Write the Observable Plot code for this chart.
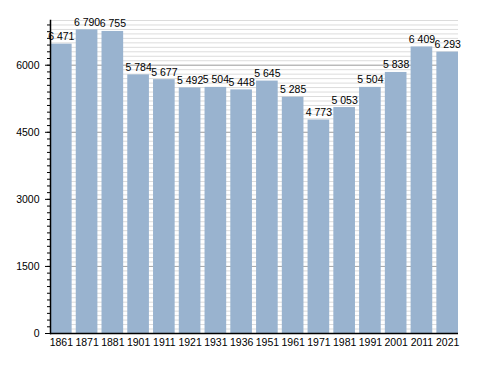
<!DOCTYPE html>
<html>
<head>
<meta charset="utf-8">
<script src="https://cdn.jsdelivr.net/npm/d3@7"></script>
<script src="https://cdn.jsdelivr.net/npm/@observablehq/plot@0.6"></script>
<style>
body { margin: 0; background: #fff; }
svg { font-family: "Liberation Sans", Arial, sans-serif; }
</style>
</head>
<body>
<div id="chart"></div>
<script>
const years = ["1861","1871","1881","1901","1911","1921","1931","1936","1951","1961","1971","1981","1991","2001","2011","2021"];
const population = [6471,6790,6755,5784,5677,5492,5504,5448,5645,5285,4773,5053,5504,5838,6409,6293];
const yMajorTicks = [0,1500,3000,4500,6000];

const data = years.map((y, i) => ({year: y, value: population[i]}));
const fmt = v => String(v).replace(/\B(?=(\d{3})+(?!\d))/g, " ");

const chart = Plot.plot({
  width: 488,
  height: 373,
  marginTop: 20,
  marginBottom: 40,
  marginLeft: 50,
  marginRight: 30,
  style: {fontFamily: "Liberation Sans, Arial, sans-serif", fontSize: "10px", color: "#000"},
  x: {domain: years, paddingInner: 0.16, paddingOuter: 0, round: false},
  y: {domain: [0, 7000]},
  marks: [
    Plot.ruleY(d3.range(0, 7001, 100), {stroke: "#dcdcdc", strokeWidth: 1}),
    Plot.ruleY(yMajorTicks.slice(1), {stroke: "#a8a8a8", strokeWidth: 1}),
    Plot.barY(data, {x: "year", y: "value", fill: "#99b3cf"}),
    Plot.text(data, {x: "year", y: "value", text: d => fmt(d.value), lineAnchor: "bottom", dy: -4, fontSize: 10.5, fill: "#000"}),
    Plot.axisY(d3.range(0, 7000, 150), {tickSize: 3, label: null, tickFormat: () => "", stroke: "#000"}),
    Plot.axisY(yMajorTicks, {tickSize: 5, tickPadding: 6, label: null, tickFormat: d => String(d), stroke: "#000", fontSize: 10.5}),
    Plot.axisX({tickSize: 0, tickPadding: 5, label: null, fontSize: 10.5}),
    Plot.ruleY([0], {stroke: "#000", strokeWidth: 1.5}),
    Plot.frame({anchor: "left", stroke: "#000", strokeWidth: 1.5})
  ]
});
document.getElementById("chart").appendChild(chart);
</script>
</body>
</html>
